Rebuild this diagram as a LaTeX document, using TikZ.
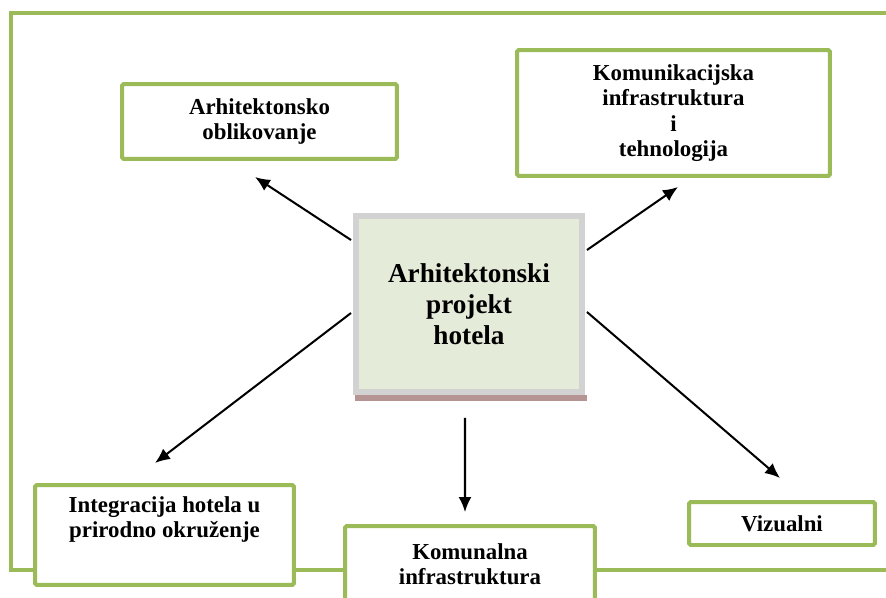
\documentclass[tikz,border=0pt]{standalone}
\usepackage{fontspec}
\setmainfont{Liberation Serif}
\usetikzlibrary{arrows.meta}
\definecolor{framegreen}{HTML}{9BBB59}
\definecolor{projfill}{HTML}{E5EBD9}
\definecolor{projgray}{HTML}{D2D2D2}
\definecolor{projshadow}{HTML}{B69494}
\tikzset{box/.style={draw=framegreen,line width=0.08cm,fill=white,rounded corners=1pt,
    align=center,inner sep=0pt,font=\fontsize{13}{14.5}\selectfont\bfseries}}
\tikzset{frame/.style={draw=framegreen,line width=0.08cm}}
\tikzset{projbox/.style={draw=projgray,line width=0.12cm,fill=projfill,align=center,
    inner sep=0pt,font=\fontsize{15.5}{17.6}\selectfont\bfseries}}
\tikzset{arr/.style={-{Latex[length=3mm,width=2.6mm]},line width=1.15pt}}

\begin{document}
\begin{tikzpicture}[x=0.02cm,y=-0.02cm]
  \useasboundingbox (0,0) rectangle (886,598);
  \clip (0,0) rectangle (886,598);
  % outer frame
  \draw[frame] (886,13) -- (11,13) -- (11,570) -- (886,570);

  % central box
  \node[projbox,minimum width=4.52cm,minimum height=3.52cm] (proj) at (469,304)
    {Arhitektonski\\projekt\\hotela};
  \fill[projshadow] ([xshift=0.04cm]proj.south west) rectangle ([xshift=0.04cm,yshift=-0.12cm]proj.south east);

  % surrounding boxes
  \node[box,minimum width=5.5cm,minimum height=1.5cm] (oblik) at (259.5,121.5)
    {Arhitektonsko\\oblikovanje};
  \node[box,minimum width=6.26cm,minimum height=2.52cm] (komun) at (673.5,113)
    {Komunikacijska\\infrastruktura\\i\\tehnologija};
  \node[box,minimum width=5.18cm,minimum height=2.0cm] (integ) at (164.5,535)
    {Integracija hotela u\\prirodno okruženje\\[6pt]\mbox{}};
  \node[box,minimum width=5.0cm,minimum height=1.52cm] (komunal) at (470,564)
    {Komunalna\\infrastruktura};
  \node[box,minimum width=3.72cm,minimum height=0.86cm] (vizual) at (782,523.5)
    {Vizualni};

  % arrow ends
  \coordinate (eOblik) at (255,177);
  \coordinate (eKomun) at (678,187);
  \coordinate (eInteg) at (155,463);
  \coordinate (eVizual) at (780,478);
  \coordinate (eKomunal) at (465,512);

  \draw[arr] ([xshift=-0.04cm,yshift=1.28cm]proj.west) -- (eOblik);
  \draw[arr] ([xshift=-0.04cm,yshift=-0.18cm]proj.west) -- (eInteg);
  \draw[arr] ([xshift=0.04cm,yshift=1.08cm]proj.east) -- (eKomun);
  \draw[arr] ([xshift=0.04cm,yshift=-0.16cm]proj.east) -- (eVizual);
  \draw[arr] ([xshift=-0.08cm,yshift=-0.46cm]proj.south) -- (eKomunal);
\end{tikzpicture}
\end{document}
